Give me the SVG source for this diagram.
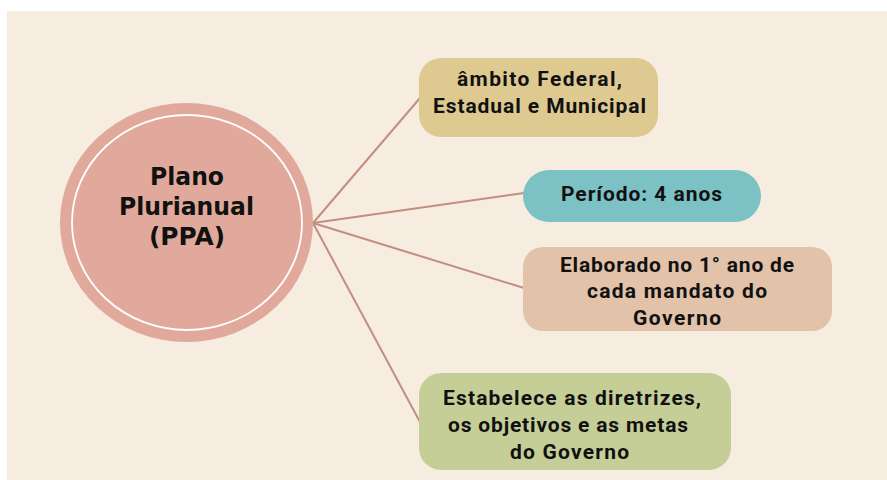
<svg xmlns="http://www.w3.org/2000/svg" width="887" height="480" viewBox="0 0 887 480">
<style>
.t{font-family:Roboto,"Noto Sans","Liberation Sans",sans-serif;font-weight:700;font-size:21px;fill:#111;text-anchor:middle}
.c{font-family:"DejaVu Sans","Liberation Sans",sans-serif;font-weight:700;font-size:24px;fill:#111;text-anchor:middle}
.ln{stroke:#C38D82;stroke-width:2;fill:none}
</style>
<rect x="0" y="0" width="887" height="480" fill="#FFFFFF"/>
<rect x="7" y="11" width="880" height="469" fill="#F7ECE0"/>
<g id="connectors">
<line class="ln" x1="313" y1="223" x2="420" y2="98"/>
<line class="ln" x1="313" y1="223" x2="524" y2="193"/>
<line class="ln" x1="313" y1="223" x2="524" y2="288"/>
<line class="ln" x1="313" y1="223" x2="420" y2="422"/>
</g>
<g id="ppa">
<ellipse cx="186.5" cy="222.5" rx="126.5" ry="119.5" fill="#E0A99B"/>
<ellipse cx="187" cy="222.5" rx="115" ry="107.5" fill="none" stroke="#FFFFFF" stroke-width="1.8"/>
<text class="c" x="187" y="185" textLength="74" lengthAdjust="spacingAndGlyphs">Plano</text>
<text class="c" x="186.5" y="215" textLength="135" lengthAdjust="spacingAndGlyphs">Plurianual</text>
<text class="c" x="187" y="245" textLength="76" lengthAdjust="spacingAndGlyphs">(PPA)</text>
</g>
<g id="ambito">
<rect x="419" y="58" width="239" height="79" rx="22" fill="#DEC991"/>
<text class="t" x="539.5" y="86" textLength="165" lengthAdjust="spacing">âmbito Federal,</text>
<text class="t" x="539.5" y="113" textLength="213" lengthAdjust="spacing">Estadual e Municipal</text>
</g>
<g id="periodo">
<rect x="523" y="170" width="238" height="52" rx="26" fill="#7CC1C4"/>
<text class="t" x="641.5" y="201" textLength="161" lengthAdjust="spacing">Período: 4 anos</text>
</g>
<g id="elaborado">
<rect x="523" y="247" width="309" height="84" rx="20" fill="#E2C2A8"/>
<text class="t" x="677" y="272" textLength="234" lengthAdjust="spacing">Elaborado no 1° ano de</text>
<text class="t" x="677" y="298" textLength="180" lengthAdjust="spacing">cada mandato do</text>
<text class="t" x="677" y="325" textLength="88" lengthAdjust="spacing">Governo</text>
</g>
<g id="estabelece">
<rect x="419" y="373" width="312" height="97" rx="22" fill="#C6CE98"/>
<text class="t" x="572" y="405" textLength="258" lengthAdjust="spacing">Estabelece as diretrizes,</text>
<text class="t" x="568" y="432" textLength="240" lengthAdjust="spacing">os objetivos e as metas</text>
<text class="t" x="569.5" y="459" textLength="119" lengthAdjust="spacing">do Governo</text>
</g>
</svg>
